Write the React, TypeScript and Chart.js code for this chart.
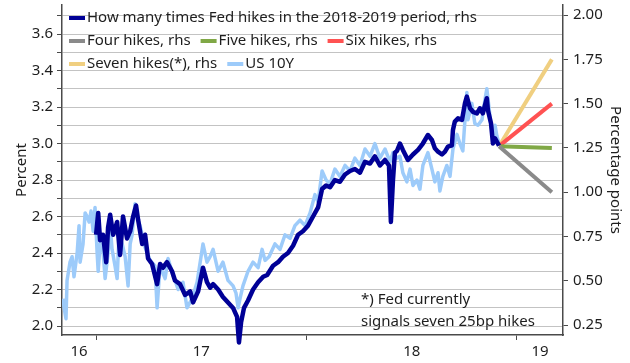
import React, { useEffect, useRef } from 'react';
import { Chart, registerables } from 'chart.js';

Chart.register(...registerables);

// ---- Data (x = year, two-digit + fraction) ----
const usDates = [
  16.843, 16.848, 16.857, 16.862, 16.876, 16.886, 16.895, 16.910, 16.919, 16.924,
  16.938, 16.948, 16.957, 16.967, 16.976, 16.986, 16.995, 17.005, 17.010, 17.019,
  17.029, 17.043, 17.057, 17.067, 17.076, 17.090, 17.100, 17.109, 17.124, 17.138,
  17.152, 17.162, 17.171, 17.185, 17.200, 17.209, 17.233, 17.257, 17.280, 17.290,
  17.304, 17.328, 17.342, 17.366, 17.390, 17.413, 17.432, 17.456, 17.480, 17.508,
  17.527, 17.542, 17.556, 17.580, 17.603, 17.627, 17.651, 17.665, 17.675, 17.684,
  17.698, 17.722, 17.746, 17.770, 17.789, 17.803, 17.822, 17.850, 17.874, 17.898,
  17.922, 17.945, 17.969, 17.993, 18.017, 18.040, 18.055, 18.074, 18.093, 18.112,
  18.135, 18.159, 18.183, 18.207, 18.230, 18.254, 18.278, 18.302, 18.325, 18.349,
  18.373, 18.397, 18.411, 18.430, 18.444, 18.458, 18.477, 18.492, 18.506, 18.525,
  18.539, 18.553, 18.577, 18.596, 18.610, 18.625, 18.634, 18.648, 18.667, 18.682,
  18.696, 18.715, 18.729, 18.743, 18.762, 18.767, 18.786, 18.800, 18.815, 18.834,
  18.848, 18.857, 18.872, 18.886, 18.896, 18.905, 18.915,
];
const usValues = [
  2.15, 2.10, 2.04, 2.25, 2.35, 2.38, 2.27, 2.40, 2.55, 2.35,
  2.45, 2.62, 2.60, 2.57, 2.63, 2.52, 2.65, 2.40, 2.30, 2.45,
  2.47, 2.26, 2.40, 2.55, 2.42, 2.33, 2.26, 2.50, 2.45, 2.38,
  2.22, 2.45, 2.50, 2.67, 2.58, 2.55, 2.43, 2.36, 2.33, 2.10,
  2.33, 2.26, 2.37, 2.28, 2.20, 2.24, 2.10, 2.15, 2.24, 2.45,
  2.35, 2.38, 2.42, 2.30, 2.35, 2.25, 2.22, 2.18, 2.10, 2.15,
  2.22, 2.30, 2.35, 2.32, 2.42, 2.36, 2.38, 2.45, 2.42, 2.50,
  2.48, 2.55, 2.58, 2.55, 2.62, 2.72, 2.68, 2.85, 2.80, 2.78,
  2.86, 2.82, 2.88, 2.85, 2.92, 2.88, 2.97, 2.93, 3.00, 2.92,
  2.97, 2.90, 2.95, 2.92, 2.93, 2.84, 2.79, 2.86, 2.77, 2.80,
  2.75, 2.88, 2.95, 2.86, 2.79, 2.84, 2.74, 2.82, 2.88, 2.82,
  2.97, 3.05, 3.00, 2.96, 3.28, 3.13, 3.22, 3.11, 3.10, 3.13,
  3.24, 3.30, 3.15, 3.02, 3.10, 3.04, 3.00,
];

const fedDates = [
  17.000, 17.010, 17.019, 17.033, 17.048, 17.057, 17.067, 17.081, 17.100, 17.114,
  17.128, 17.147, 17.162, 17.176, 17.190, 17.200, 17.219, 17.233, 17.247, 17.266,
  17.290, 17.304, 17.318, 17.337, 17.361, 17.375, 17.399, 17.423, 17.447, 17.461,
  17.485, 17.508, 17.527, 17.542, 17.556, 17.580, 17.603, 17.627, 17.651, 17.670,
  17.679, 17.689, 17.703, 17.722, 17.746, 17.770, 17.794, 17.813, 17.841, 17.865,
  17.888, 17.912, 17.936, 17.960, 17.983, 18.007, 18.031, 18.055, 18.074, 18.093,
  18.112, 18.135, 18.159, 18.183, 18.207, 18.230, 18.254, 18.278, 18.302, 18.325,
  18.349, 18.373, 18.392, 18.401, 18.411, 18.420, 18.430, 18.444, 18.458, 18.482,
  18.506, 18.530, 18.553, 18.577, 18.596, 18.610, 18.625, 18.644, 18.658, 18.672,
  18.691, 18.696, 18.705, 18.720, 18.739, 18.753, 18.762, 18.777, 18.791, 18.810,
  18.824, 18.838, 18.857, 18.862, 18.877, 18.886, 18.896, 18.905, 18.915,
];
const fedValues = [
  0.760, 0.883, 0.729, 0.760, 0.605, 0.801, 0.873, 0.760, 0.832, 0.646,
  0.863, 0.739, 0.780, 0.863, 0.925, 0.842, 0.708, 0.760, 0.626, 0.595,
  0.481, 0.595, 0.574, 0.605, 0.554, 0.502, 0.481, 0.420, 0.440, 0.378,
  0.440, 0.574, 0.492, 0.461, 0.481, 0.451, 0.409, 0.378, 0.347, 0.296,
  0.152, 0.265, 0.347, 0.389, 0.451, 0.492, 0.523, 0.533, 0.585, 0.605,
  0.636, 0.657, 0.698, 0.760, 0.780, 0.811, 0.863, 0.914, 1.018, 1.038,
  1.028, 1.069, 1.059, 1.100, 1.120, 1.131, 1.110, 1.172, 1.162, 1.203,
  1.151, 1.182, 1.151, 0.832, 1.069, 1.223, 1.234, 1.275, 1.239, 1.182,
  1.213, 1.239, 1.275, 1.323, 1.295, 1.248, 1.229, 1.213, 1.229, 1.257,
  1.265, 1.351, 1.399, 1.417, 1.408, 1.502, 1.540, 1.474, 1.454, 1.445,
  1.474, 1.445, 1.531, 1.464, 1.388, 1.275, 1.304, 1.285, 1.263,
];

const scenarioDates = [18.915, 19.166];
const fourHikes = [1.26, 1.0];
const fiveHikes = [1.26, 1.25];
const sixHikes = [1.26, 1.5];
const sevenHikes = [1.26, 1.75];

const yearLabels = ['16', '17', '18', '19'];
const noteLines = ['*) Fed currently', 'signals seven 25bp hikes'];
const legendRows = [[0], [1, 2, 3], [4, 5]];

// ---- Styles ----
const FONT = "'Noto Sans', sans-serif";
const FS = 15;
const TEXT = '#1e1e1e';
const AXIS = '#4a4a4a';
const GRID = '#c3c3c3';
const X_MIN = 16.838;
const X_MAX = 19.219;

const pts = (xs: number[], ys: number[]) => xs.map((x, i) => ({ x, y: ys[i] }));

const overlayPlugin = {
  id: 'overlay',
  afterDraw(chart: any) {
    const ctx = chart.ctx as CanvasRenderingContext2D;
    ctx.save();
    ctx.font = `${FS}px ${FONT}`;
    ctx.textBaseline = 'middle';
    ctx.textAlign = 'left';
    let y = 18;
    legendRows.forEach((row) => {
      let x = 69;
      row.forEach((i) => {
        const ds = chart.data.datasets[i];
        ctx.fillStyle = ds.borderColor;
        ctx.fillRect(x, y - 2, 16, 4);
        x += 18;
        ctx.fillStyle = TEXT;
        ctx.fillText(ds.label, x, y);
        x += ctx.measureText(ds.label).width + 10;
      });
      y += 23;
    });
    ctx.fillStyle = TEXT;
    ctx.fillText(noteLines[0], 361, 300);
    ctx.fillText(noteLines[1], 361, 322);
    ctx.restore();
  },
};

export default function App() {
  const ref = useRef<HTMLCanvasElement>(null);

  useEffect(() => {
    document.body.style.margin = '0';
    Chart.defaults.font.family = FONT;
    Chart.defaults.font.size = FS;
    Chart.defaults.color = TEXT;

    const chart = new Chart(ref.current as HTMLCanvasElement, {
      type: 'line',
      data: {
        datasets: [
          {
            label: 'How many times Fed hikes in the 2018-2019 period, rhs',
            data: pts(fedDates, fedValues),
            borderColor: '#000096',
            borderWidth: 4.5,
            yAxisID: 'y1',
            clip: false as any,
          },
          {
            label: 'Four hikes, rhs',
            data: pts(scenarioDates, fourHikes),
            borderColor: '#8a8a8a',
            borderWidth: 4,
            yAxisID: 'y1',
          },
          {
            label: 'Five hikes, rhs',
            data: pts(scenarioDates, fiveHikes),
            borderColor: '#80a846',
            borderWidth: 4,
            yAxisID: 'y1',
          },
          {
            label: 'Six hikes, rhs',
            data: pts(scenarioDates, sixHikes),
            borderColor: '#ff5252',
            borderWidth: 4,
            yAxisID: 'y1',
          },
          {
            label: 'Seven hikes(*), rhs',
            data: pts(scenarioDates, sevenHikes),
            borderColor: '#f0cf80',
            borderWidth: 4,
            yAxisID: 'y1',
          },
          {
            label: 'US 10Y',
            data: pts(usDates, usValues),
            borderColor: '#9dcbfa',
            borderWidth: 3.5,
            yAxisID: 'y',
          },
        ],
      },
      options: {
        animation: false,
        responsive: false,
        devicePixelRatio: 1,
        layout: { padding: { top: 5, left: 0, right: 0, bottom: 0 } },
        elements: {
          point: { radius: 0, hoverRadius: 0 },
          line: { tension: 0, borderJoinStyle: 'round', borderCapStyle: 'butt' },
        },
        plugins: { legend: { display: false }, tooltip: { enabled: false } },
        scales: {
          x: {
            type: 'linear',
            min: X_MIN,
            max: X_MAX,
            border: { color: AXIS, width: 1.5 },
            grid: {
              drawOnChartArea: false,
              drawTicks: true,
              tickLength: 5,
              tickColor: (c: any) =>
                c.tick && Number.isInteger(c.tick.value) ? AXIS : 'rgba(0,0,0,0)',
            },
            afterBuildTicks: (scale: any) => {
              const t: { value: number }[] = [];
              for (let yr = 16; yr <= 19; yr++) {
                const a = Math.max(yr, X_MIN);
                const b = Math.min(yr + 1, X_MAX);
                if (yr > 16) t.push({ value: yr });
                t.push({ value: (a + b) / 2 });
              }
              scale.ticks = t;
            },
            ticks: {
              autoSkip: false,
              maxRotation: 0,
              padding: 3,
              color: TEXT,
              font: { size: FS },
              callback: (v: any) =>
                Number.isInteger(v) ? '' : yearLabels[Math.floor(v) - 16] ?? '',
            },
            afterFit: (scale: any) => {
              scale.height = 28;
              scale.paddingLeft = 0;
              scale.paddingRight = 0;
            },
          },
          y: {
            position: 'left',
            min: 1.951,
            max: 3.759,
            border: { color: AXIS, width: 1.5 },
            grid: { color: GRID, lineWidth: 1, tickLength: 5, tickColor: AXIS },
            afterBuildTicks: (scale: any) => {
              const t: { value: number }[] = [];
              for (let i = 20; i <= 37; i++) t.push({ value: i / 10 });
              scale.ticks = t;
            },
            ticks: {
              autoSkip: false,
              padding: 4,
              color: TEXT,
              font: { size: FS },
              callback: (v: any) =>
                Math.round(v * 10) % 2 === 0 ? Number(v).toFixed(1) : '',
            },
            title: {
              display: true,
              text: 'Percent',
              color: TEXT,
              font: { size: FS },
              padding: { top: 13, bottom: 0 },
            },
            afterFit: (scale: any) => {
              scale.width = 62;
              scale.paddingTop = 0;
              scale.paddingBottom = 0;
            },
          },
          y1: {
            position: 'right',
            min: 0.194,
            max: 2.057,
            border: { color: AXIS, width: 1.5 },
            grid: { drawOnChartArea: false, tickLength: 5, tickColor: AXIS },
            afterBuildTicks: (scale: any) => {
              const t: { value: number }[] = [];
              for (let i = 1; i <= 8; i++) t.push({ value: i * 0.25 });
              scale.ticks = t;
            },
            ticks: {
              autoSkip: false,
              padding: 5,
              color: TEXT,
              font: { size: FS },
              callback: (v: any) => Number(v).toFixed(2),
            },
            title: {
              display: true,
              text: 'Percentage points',
              color: TEXT,
              font: { size: FS },
              padding: { top: 6, bottom: 0 },
            },
            afterFit: (scale: any) => {
              scale.width = 67;
              scale.paddingTop = 0;
              scale.paddingBottom = 0;
            },
          },
        },
      },
      plugins: [overlayPlugin],
    });

    return () => chart.destroy();
  }, []);

  return (
    <div style={{ width: 630, height: 363 }}>
      <canvas ref={ref} width={630} height={363} />
    </div>
  );
}
